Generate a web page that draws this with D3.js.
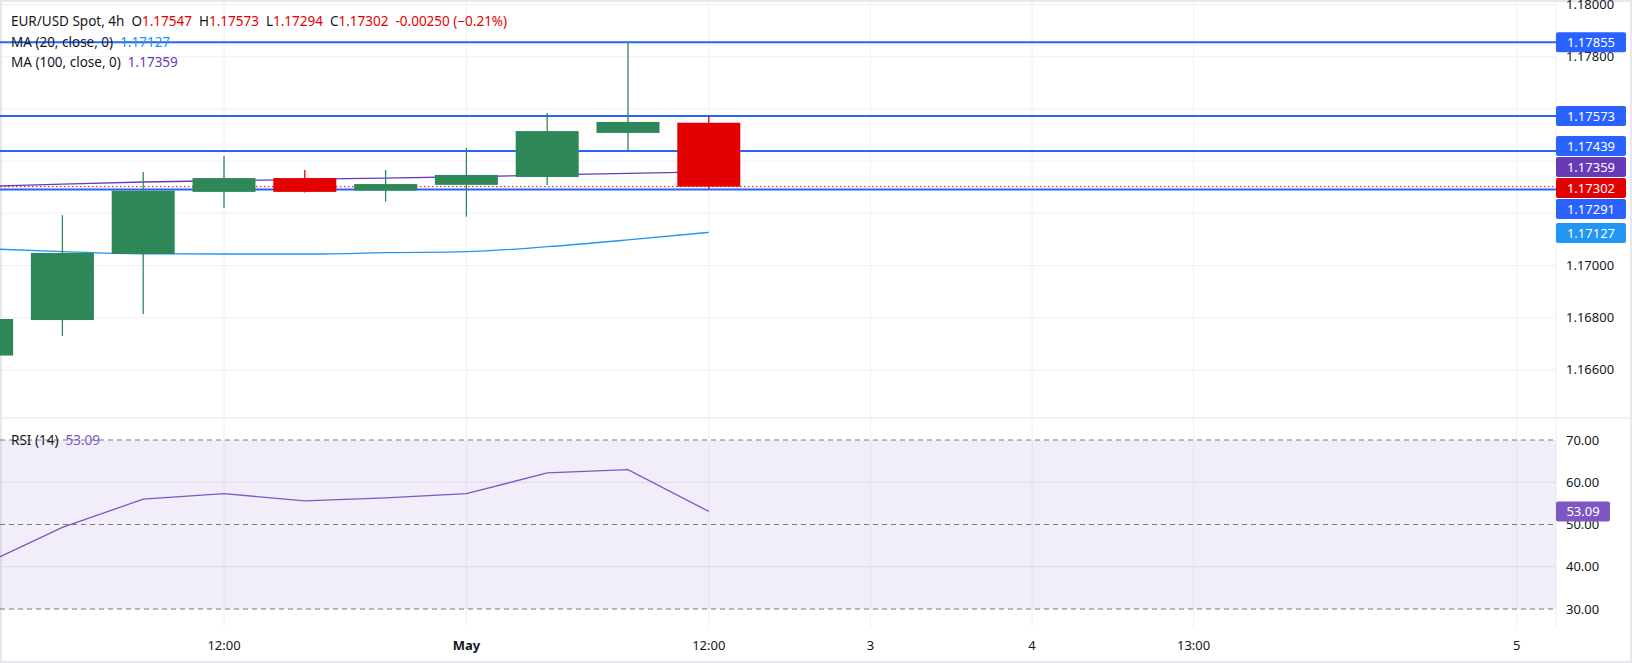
<!DOCTYPE html>
<html><head><meta charset="utf-8">
<script src="https://cdn.jsdelivr.net/npm/d3@7"></script>
<style>body{margin:0;background:#fff;}svg{display:block;font-family:"Noto Sans",sans-serif;}</style>
</head><body>
<svg id="c" width="1632" height="663"></svg>
<script>
const opens  = [1.16655,1.16791,1.17044,1.17282,1.17335,1.17287,1.17309,1.17339,1.17508,1.17547];
const highs  = [1.16810,1.17193,1.17358,1.17420,1.17366,1.17366,1.17450,1.17584,1.17855,1.17573];
const lows   = [1.16640,1.16730,1.16814,1.17221,1.17280,1.17245,1.17187,1.17308,1.17440,1.17294];
const closes = [1.16795,1.17048,1.17287,1.17335,1.17282,1.17312,1.17347,1.17515,1.17550,1.17302];
const ma20   = [1.17065,1.17053,1.17045,1.17044,1.17044,1.17049,1.17053,1.17072,1.17098,1.17127];
const ma100  = [1.17303,1.17312,1.17320,1.17325,1.17330,1.17335,1.17340,1.17347,1.17353,1.17359];
const rsi    = [40.3,49.3,56.0,57.3,55.6,56.3,57.3,62.2,63.0,53.09];
const hlines = [1.17855,1.17573,1.17439,1.17291];
const priceTicks = [1.166,1.168,1.170,1.172,1.174,1.176,1.178,1.180];
const priceTickLabels = ["1.16600","1.16800","1.17000","","","","1.17800","1.18000"];
const rsiTicks = [30,40,50,60,70];
const timeIdx = [3,6,9,11,13,15,19];
const timeLabels = ["12:00","May","12:00","3","4","13:00","5"];

const svg = d3.select("#c");
const W = 1556;
const x = d3.scaleLinear().domain([1,9]).range([62.4,62.4+80.8*8]);
const y = d3.scaleLinear().domain([1.18,1.166]).range([4.5,4.5+0.014*26100]);
const yr = d3.scaleLinear().domain([70,30]).range([440,609]);
const bw = 63;
const green="#2e8757", red="#e50000", blue="#2962ff";

// grid
const g = svg.append("g");
g.selectAll(".vg").data(timeIdx).join("line").attr("x1",d=>x(d)).attr("x2",d=>x(d)).attr("y1",0).attr("y2",627).attr("stroke","#f0f0f3");
g.selectAll(".hg").data(priceTicks).join("line").attr("x1",0).attr("x2",W).attr("y1",d=>y(d)).attr("y2",d=>y(d)).attr("stroke","#f0f0f3");
g.selectAll(".rg").data([40,60]).join("line").attr("x1",0).attr("x2",W).attr("y1",d=>yr(d)).attr("y2",d=>yr(d)).attr("stroke","#e8e6ee");
// pane separators
svg.append("line").attr("x1",0).attr("x2",1632).attr("y1",418).attr("y2",418).attr("stroke","#e0e3eb");
svg.append("line").attr("x1",W).attr("x2",W).attr("y1",0).attr("y2",627).attr("stroke","#f0f0f3");
svg.append("rect").attr("x",0.5).attr("y",0.5).attr("width",1631).attr("height",662).attr("fill","none").attr("stroke","#e6e8ee").attr("stroke-width",3);

// RSI band
svg.append("rect").attr("x",0).attr("y",yr(70)).attr("width",W).attr("height",yr(30)-yr(70)).attr("fill","rgba(126,87,194,0.1)");
svg.selectAll(".rd").data([30,50,70]).join("line").attr("x1",0).attr("x2",W).attr("y1",d=>yr(d)).attr("y2",d=>yr(d)).attr("stroke","#787b86").attr("stroke-dasharray","5,4");

const idx = d3.range(rsi.length);
const clip = svg.append("clipPath").attr("id","cp").append("rect").attr("x",0).attr("y",0).attr("width",W).attr("height",627);
const pg = svg.append("g").attr("clip-path","url(#cp)");

// horizontal levels
pg.selectAll(".hl").data(hlines).join("line").attr("x1",0).attr("x2",W).attr("y1",d=>y(d)).attr("y2",d=>y(d)).attr("stroke",blue).attr("stroke-width",2);
pg.append("line").attr("x1",0).attr("x2",W).attr("y1",y(closes[9])).attr("y2",y(closes[9])).attr("stroke",red).attr("stroke-dasharray","1.5,2.5");

// MAs
const line = (arr)=>d3.line().x((d,i)=>x(i)).y(d=>y(d)).curve(d3.curveMonotoneX)(arr);
pg.append("path").attr("d",line(ma20)).attr("fill","none").attr("stroke","#2196f3").attr("stroke-width",1.3);
pg.append("path").attr("d",line(ma100)).attr("fill","none").attr("stroke","#673ab7").attr("stroke-width",1.3);

// candles
idx.forEach(i=>{
  const c = closes[i]>=opens[i]?green:red;
  pg.append("line").attr("x1",x(i)).attr("x2",x(i)).attr("y1",y(highs[i])).attr("y2",y(lows[i])).attr("stroke",c).attr("stroke-width",1.3);
  pg.append("rect").attr("x",x(i)-bw/2).attr("width",bw).attr("y",y(Math.max(opens[i],closes[i]))).attr("height",Math.max(1,Math.abs(y(opens[i])-y(closes[i])))).attr("fill",c);
});

// RSI line
pg.append("path").attr("d",d3.line().x((d,i)=>x(i)).y(d=>yr(d))(rsi)).attr("fill","none").attr("stroke","#7e57c2").attr("stroke-width",1.3);

// axis labels
const ax = svg.append("g").attr("font-size",13).attr("fill","#131722");
ax.selectAll(".pt").data(priceTicks).join("text").attr("x",1566).attr("y",d=>y(d)).attr("dy","0.35em").text((d,i)=>priceTickLabels[i]);
ax.selectAll(".rt").data(rsiTicks).join("text").attr("x",1566).attr("y",d=>yr(d)).attr("dy","0.35em").text(d=>d.toFixed(2));
ax.selectAll(".tt").data(timeIdx).join("text").attr("x",d=>x(d)).attr("y",645).attr("dy","0.35em").attr("text-anchor","middle").attr("font-weight",(d,i)=>timeLabels[i]==="May"?"bold":null).text((d,i)=>timeLabels[i]);

// price boxes
const boxes = [
  {v:1.17855,yy:y(1.17855),c:blue},
  {v:1.17573,yy:y(1.17573),c:blue},
  {v:1.17439,yy:146,c:blue},
  {v:ma100[9],yy:167,c:"#673ab7"},
  {v:closes[9],yy:188,c:red},
  {v:1.17291,yy:209,c:blue},
  {v:ma20[9],yy:233,c:"#2196f3"}
];
boxes.forEach(b=>{
  svg.append("rect").attr("x",W).attr("y",b.yy-10).attr("width",70).attr("height",20).attr("rx",2).attr("fill",b.c);
  svg.append("text").attr("x",W+35).attr("y",b.yy).attr("dy","0.36em").attr("text-anchor","middle").attr("fill","#fff").attr("font-size",13).text(b.v.toFixed(5));
});
svg.append("rect").attr("x",W).attr("y",yr(rsi[9])-10).attr("width",54).attr("height",20).attr("rx",2).attr("fill","#7e57c2");
svg.append("text").attr("x",W+27).attr("y",yr(rsi[9])).attr("dy","0.36em").attr("text-anchor","middle").attr("fill","#fff").attr("font-size",13).text(rsi[9].toFixed(2));

// legends
const lg = svg.append("g").attr("font-size",13.5);
const t1 = lg.append("text").attr("x",11).attr("y",21).attr("dy","0.35em").attr("fill","#131722").attr("xml:space","preserve");
t1.append("tspan").text("EUR/USD Spot, 4h  O");
t1.append("tspan").attr("fill",red).text(opens[9].toFixed(5));
t1.append("tspan").text("  H");
t1.append("tspan").attr("fill",red).text(highs[9].toFixed(5));
t1.append("tspan").text("  L");
t1.append("tspan").attr("fill",red).text(lows[9].toFixed(5));
t1.append("tspan").text("  C");
t1.append("tspan").attr("fill",red).text(closes[9].toFixed(5)+"  -0.00250 (\u22120.21%)");
const t2 = lg.append("text").attr("x",11).attr("y",42).attr("dy","0.35em").attr("fill","#131722").attr("xml:space","preserve");
t2.append("tspan").text("MA (20, close, 0)  ");
t2.append("tspan").attr("fill","#2196f3").text(ma20[9].toFixed(5));
const t3 = lg.append("text").attr("x",11).attr("y",62).attr("dy","0.35em").attr("fill","#131722").attr("xml:space","preserve");
t3.append("tspan").text("MA (100, close, 0)  ");
t3.append("tspan").attr("fill","#673ab7").text(ma100[9].toFixed(5));
const t4 = lg.append("text").attr("x",11).attr("y",440).attr("dy","0.35em").attr("fill","#131722").attr("xml:space","preserve");
t4.append("tspan").text("RSI (14)  ");
t4.append("tspan").attr("fill","#7e57c2").text(rsi[9].toFixed(2));
</script>
</body></html>
